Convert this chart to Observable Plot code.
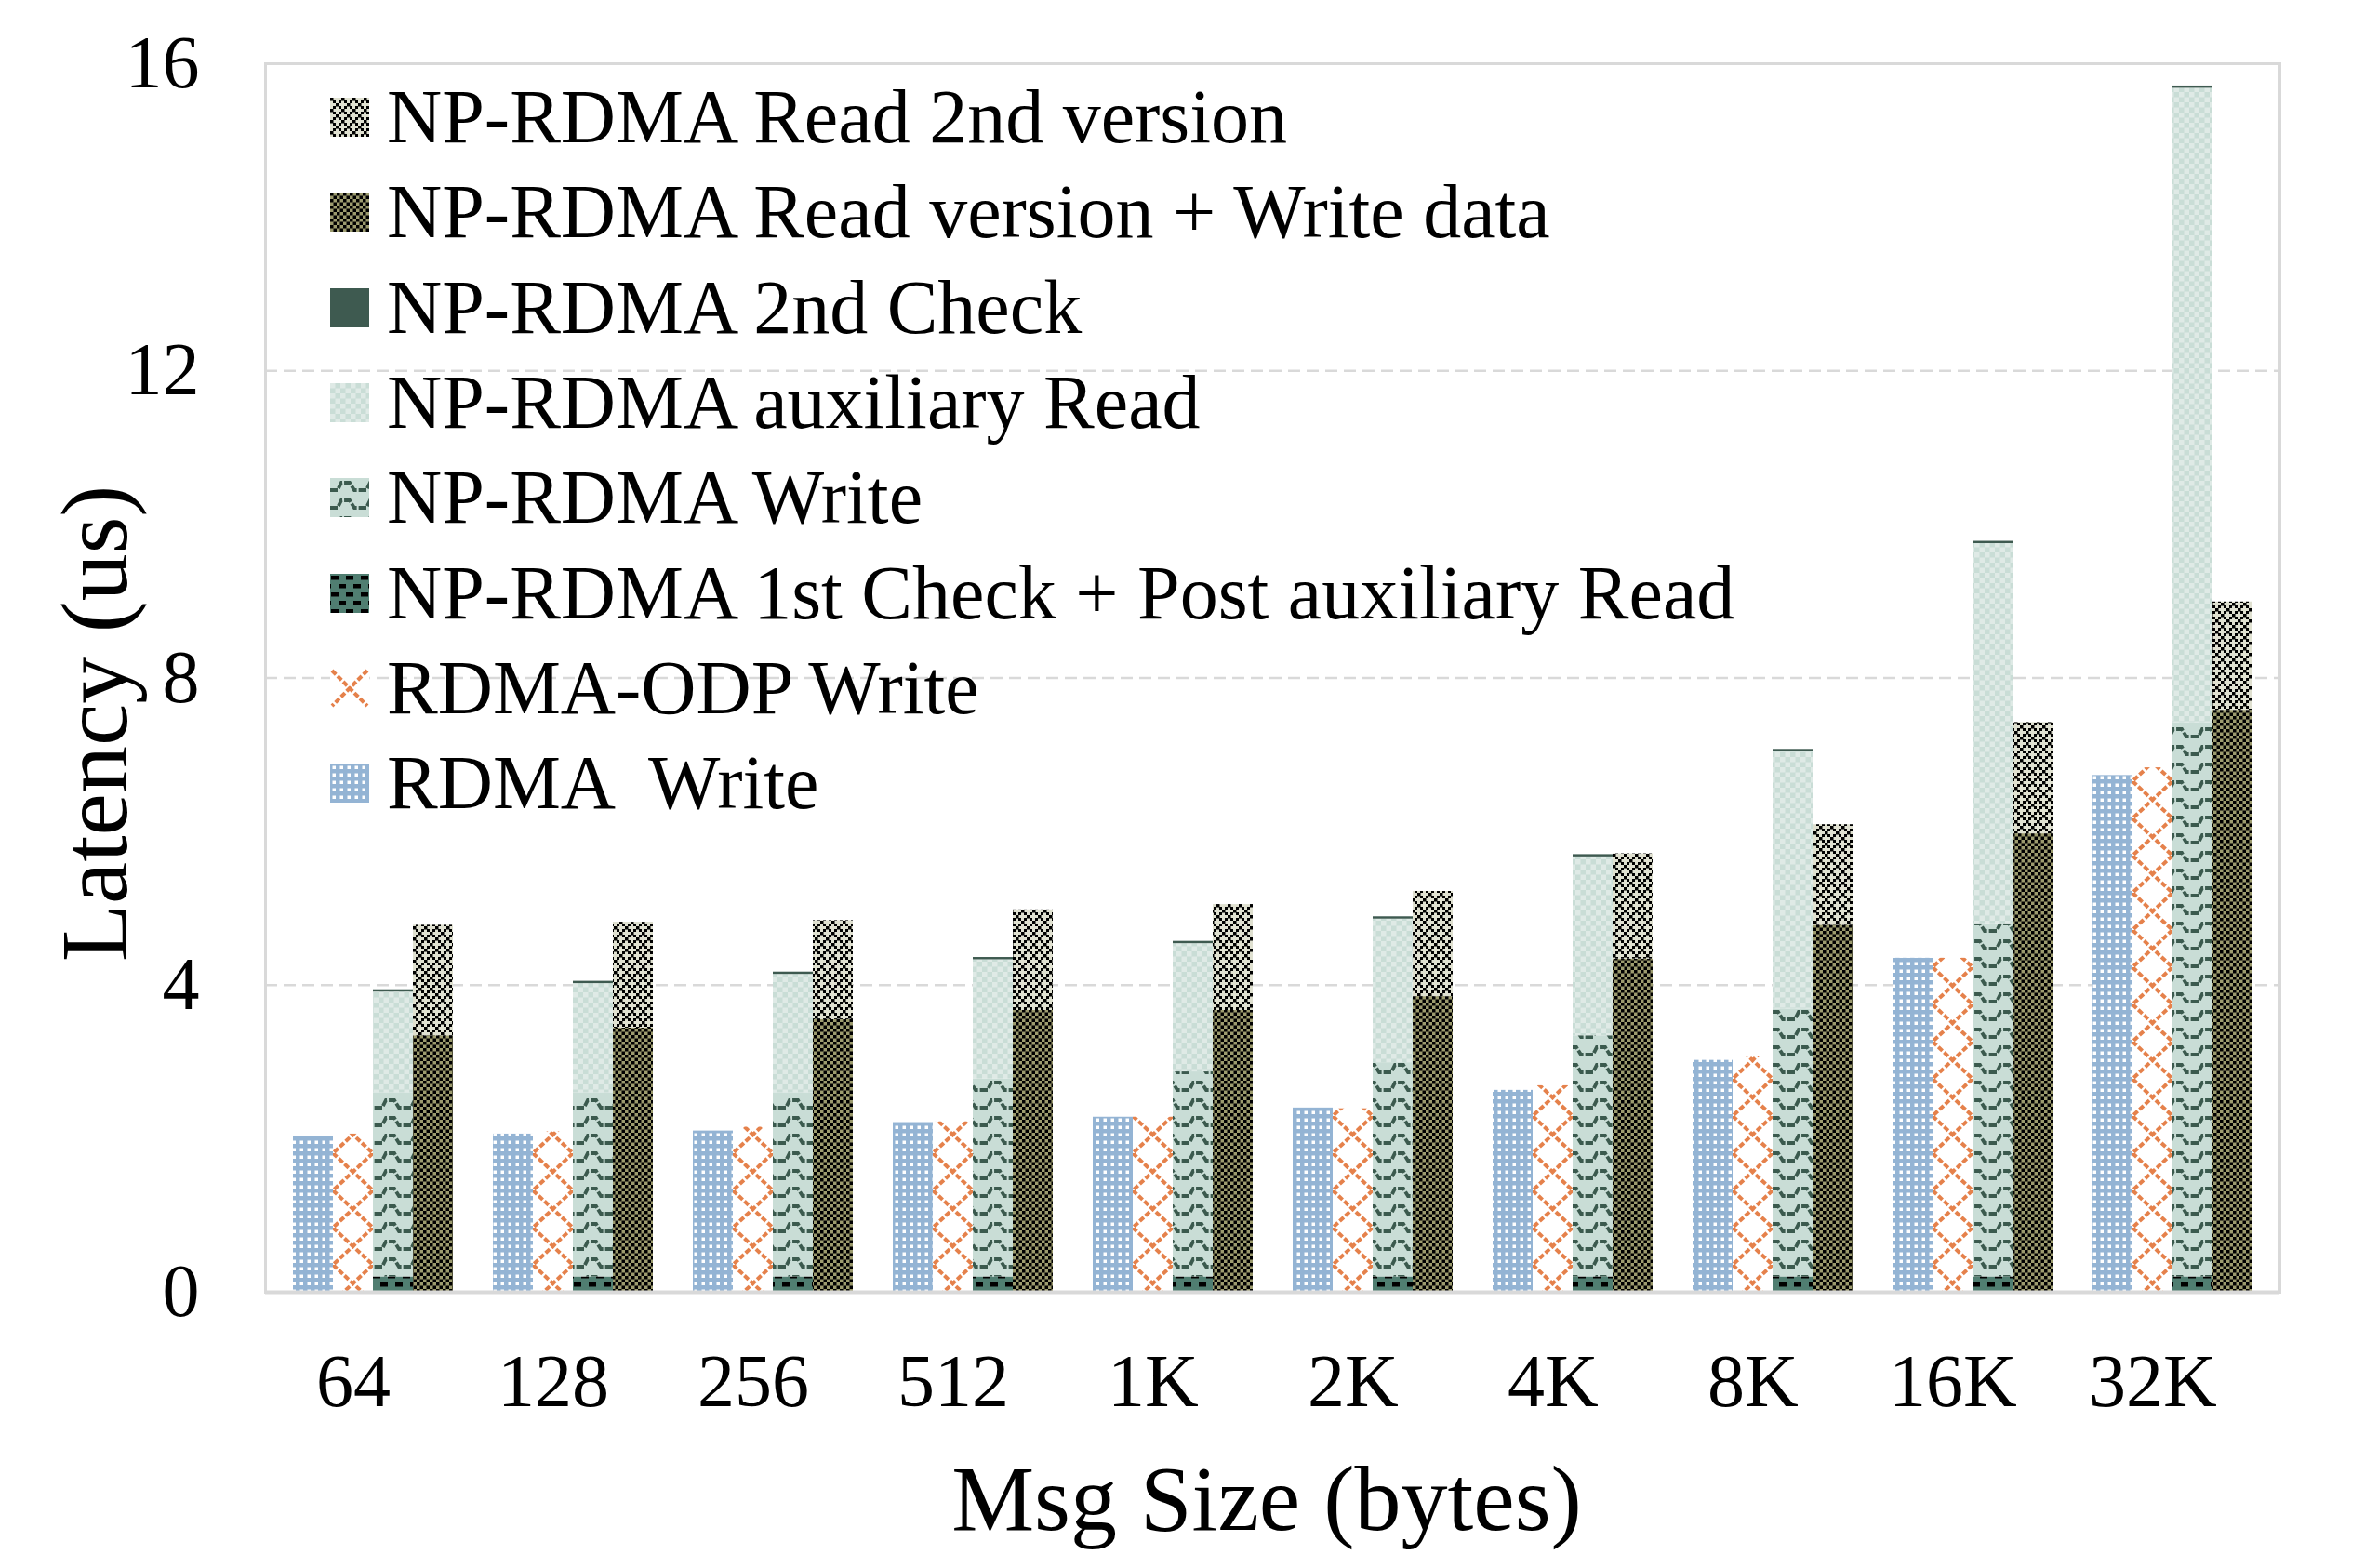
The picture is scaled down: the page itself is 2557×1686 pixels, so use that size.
<!DOCTYPE html>
<html>
<head>
<meta charset="utf-8">
<script src="https://cdn.jsdelivr.net/npm/d3@7"></script>
<script src="https://cdn.jsdelivr.net/npm/@observablehq/plot@0.6"></script>
<style>
  html, body { margin: 0; padding: 0; background: #fff; }
  #wrap { position: relative; width: 2557px; height: 1686px; overflow: hidden; font-family: "Liberation Serif", "Times New Roman", serif; color: #000; }
  #legend { position: absolute; left: 355px; top: 0; }
  .lrow { position: absolute; left: 0; height: 102px; display: flex; align-items: center; white-space: pre; font-size: 82px; line-height: 1; }
  .lrow svg { width: 42px; height: 42px; margin-right: 19px; flex: none; }
  .ytitle { position: absolute; left: 101px; top: 778px; transform: translate(-50%, -50%) rotate(-90deg); font-size: 102px; white-space: nowrap; }
  .xtitle { position: absolute; left: 1362px; top: 1611px; transform: translate(-50%, -50%); font-size: 100px; white-space: nowrap; }
</style>
</head>
<body>
<div id="wrap"></div>
<script>
// ---- data ----
const sizes = ["64", "128", "256", "512", "1K", "2K", "4K", "8K", "16K", "32K"];
const rdmaWrite      = [2.03, 2.06, 2.10, 2.21, 2.28, 2.40, 2.63, 3.02, 4.35, 6.73];
const odpWrite       = [2.06, 2.09, 2.15, 2.22, 2.28, 2.39, 2.69, 3.07, 4.35, 6.83];
const npCheck1       = [0.20, 0.20, 0.20, 0.20, 0.20, 0.20, 0.20, 0.20, 0.20, 0.20];
const npWrite        = [2.40, 2.40, 2.40, 2.58, 2.67, 2.79, 3.14, 3.49, 4.60, 7.22];
const npAuxRead      = [1.31, 1.42, 1.54, 1.55, 1.67, 1.87, 2.33, 3.35, 4.95, 8.26];
const npCheck2       = [0.03, 0.03, 0.03, 0.03, 0.03, 0.03, 0.03, 0.03, 0.03, 0.03];
const npReadVerWrite = [3.34, 3.44, 3.55, 3.67, 3.67, 3.85, 4.34, 4.78, 5.97, 7.58];
const npRead2ndVer   = [1.44, 1.38, 1.29, 1.31, 1.38, 1.37, 1.37, 1.31, 1.45, 1.41];
const yTicks = [0, 4, 8, 12, 16];

const seriesIds = ["rdma", "odp", "check1", "npwrite", "aux", "check2", "readver", "read2"];
const seriesFills = seriesIds.map(s => `url(#p-${s})`);
const legendItems = [
  ["read2", "NP-RDMA Read 2nd version"],
  ["readver", "NP-RDMA Read version + Write data"],
  ["check2", "NP-RDMA 2nd Check"],
  ["aux", "NP-RDMA auxiliary Read"],
  ["npwrite", "NP-RDMA Write"],
  ["check1", "NP-RDMA 1st Check + Post auxiliary Read"],
  ["odp", "RDMA-ODP Write"],
  ["rdma", "RDMA  Write"]
];

// ---- build table ----
const slots = ["RDMA", "ODP", "NPW", "NPR"];
const xDomain = [];
sizes.forEach((s, i) => {
  if (i > 0) xDomain.push("gap" + i);
  slots.forEach(k => xDomain.push(s + "|" + k));
});
const rows = [];
sizes.forEach((s, i) => {
  rows.push({key: s + "|RDMA", series: "rdma", value: rdmaWrite[i]});
  rows.push({key: s + "|ODP", series: "odp", value: odpWrite[i]});
  rows.push({key: s + "|NPW", series: "check1", value: npCheck1[i]});
  rows.push({key: s + "|NPW", series: "npwrite", value: npWrite[i]});
  rows.push({key: s + "|NPW", series: "aux", value: npAuxRead[i]});
  rows.push({key: s + "|NPW", series: "check2", value: npCheck2[i]});
  rows.push({key: s + "|NPR", series: "readver", value: npReadVerWrite[i]});
  rows.push({key: s + "|NPR", series: "read2", value: npRead2ndVer[i]});
});

const font = "'Liberation Serif', 'Times New Roman', serif";
const chart = Plot.plot({
  width: 2557,
  height: 1686,
  marginLeft: 285,
  marginRight: 106,
  marginTop: 68,
  marginBottom: 297,
  style: {fontFamily: font, fontSize: "80px", background: "#fff", color: "#000"},
  x: {type: "band", domain: xDomain, paddingInner: 0, paddingOuter: 0.5, axis: null},
  y: {domain: [0, 16], axis: null},
  color: {type: "ordinal", domain: seriesIds, range: seriesFills},
  marks: [
    Plot.gridY([4, 8, 12], {stroke: "#d9d9d9", strokeOpacity: 1, strokeWidth: 2.5, strokeDasharray: "13,7"}),
    Plot.frame({stroke: "#d9d9d9", strokeWidth: 3}),
    Plot.barY(rows, {x: "key", y: "value", fill: "series"}),
    Plot.ruleY([0], {stroke: "#d9d9d9", strokeWidth: 4}),
    Plot.axisY({ticks: yTicks, tickSize: 0, tickPadding: 71, label: null, fontSize: 80, tickFormat: d => String(d)}),
    Plot.axisX({ticks: sizes.map(s => s + "|ODP"), tickFormat: d => d.split("|")[0], tickSize: 0, tickPadding: 66, label: null, fontSize: 80})
  ]
});

// ---- patterns (sized in pixels, aligned to the x scale) ----
const xs = chart.scale("x");
const bw = xs.bandwidth;
const x0 = xs.apply(sizes[0] + "|ODP");
const ns = "http://www.w3.org/2000/svg";
const defs = document.createElementNS(ns, "defs");
defs.innerHTML = `
<pattern id="p-rdma" patternUnits="userSpaceOnUse" width="8" height="8">
  <rect width="8" height="8" fill="#94b4d4"/><rect x="2.5" y="2.5" width="3.5" height="3.5" fill="#ffffff"/>
</pattern>
<pattern id="p-odp" patternUnits="userSpaceOnUse" x="${x0}" y="0" width="${bw}" height="40">
  <rect width="${bw}" height="40" fill="#ffffff"/>
  <path d="M0,0 L${bw},40 M${bw},0 L0,40" stroke="#e5814b" stroke-width="4" stroke-dasharray="6,2.5" fill="none"/>
</pattern>
<pattern id="p-odp-leg" patternUnits="userSpaceOnUse" width="42" height="42">
  <rect width="42" height="42" fill="#ffffff"/>
  <path d="M2,2 L40,40 M40,2 L2,40" stroke="#e5814b" stroke-width="4" stroke-dasharray="6,2.5" fill="none"/>
</pattern>
<pattern id="p-check1" patternUnits="userSpaceOnUse" width="16" height="18">
  <rect width="16" height="18" fill="#507e71"/>
  <rect x="1" y="2" width="8" height="4.5" fill="#000"/>
  <rect x="9" y="11" width="7" height="4.5" fill="#000"/><rect x="0" y="11" width="1" height="4.5" fill="#000"/>
</pattern>
<pattern id="p-npwrite" patternUnits="userSpaceOnUse" width="31" height="19">
  <rect width="31" height="19" fill="#c9ddd6"/>
  <path d="M0,13 H8 L12,5 H21 L26,13 H31" stroke="#3b5a4e" stroke-width="3.8" fill="none" stroke-dasharray="8,2"/>
</pattern>
<pattern id="p-aux" patternUnits="userSpaceOnUse" width="11" height="11">
  <rect width="11" height="11" fill="#c9ddd6"/>
  <rect x="0" y="0" width="5.5" height="5.5" fill="#dfeae6"/><rect x="5.5" y="5.5" width="5.5" height="5.5" fill="#dfeae6"/>
</pattern>
<pattern id="p-check2" patternUnits="userSpaceOnUse" width="8" height="8">
  <rect width="8" height="8" fill="#3e5a50"/>
</pattern>
<pattern id="p-readver" patternUnits="userSpaceOnUse" width="7" height="7">
  <rect width="7" height="7" fill="#9c9b6e"/>
  <rect x="0" y="0" width="3.5" height="3.5" fill="#000"/><rect x="3.5" y="3.5" width="3.5" height="3.5" fill="#000"/>
</pattern>
<pattern id="p-read2" patternUnits="userSpaceOnUse" width="12" height="12">
  <rect width="12" height="12" fill="#dfe0d0"/>
  <rect x="0" y="0" width="3.5" height="3.5" fill="#000"/>
  <rect x="3" y="3" width="3" height="3" fill="#000"/>
  <rect x="6" y="6" width="3.5" height="3.5" fill="#000"/>
  <rect x="9" y="3" width="3" height="3" fill="#000"/>
  <rect x="3" y="9" width="3" height="3" fill="#000"/>
  <rect x="9" y="9" width="3" height="3" fill="#000"/>
</pattern>`;
chart.insertBefore(defs, chart.firstChild);
chart.style.position = "absolute";
chart.style.left = "0";
chart.style.top = "0";

const wrap = document.getElementById("wrap");
wrap.appendChild(chart);

// ---- legend ----
const legend = document.createElement("div");
legend.id = "legend";
legendItems.forEach(([id, label], i) => {
  const row = document.createElement("div");
  row.className = "lrow";
  row.style.top = (126 + 102.3 * i - 51) + "px";
  const fillId = id === "odp" ? "p-odp-leg" : "p-" + id;
  row.innerHTML = `<svg viewBox="0 0 42 42"><rect width="42" height="42" fill="url(#${fillId})"/></svg><span>${label}</span>`;
  legend.appendChild(row);
});
wrap.appendChild(legend);

const yt = document.createElement("div");
yt.className = "ytitle";
yt.textContent = "Latency (us)";
wrap.appendChild(yt);
const xt = document.createElement("div");
xt.className = "xtitle";
xt.textContent = "Msg Size (bytes)";
wrap.appendChild(xt);
</script>
</body>
</html>
